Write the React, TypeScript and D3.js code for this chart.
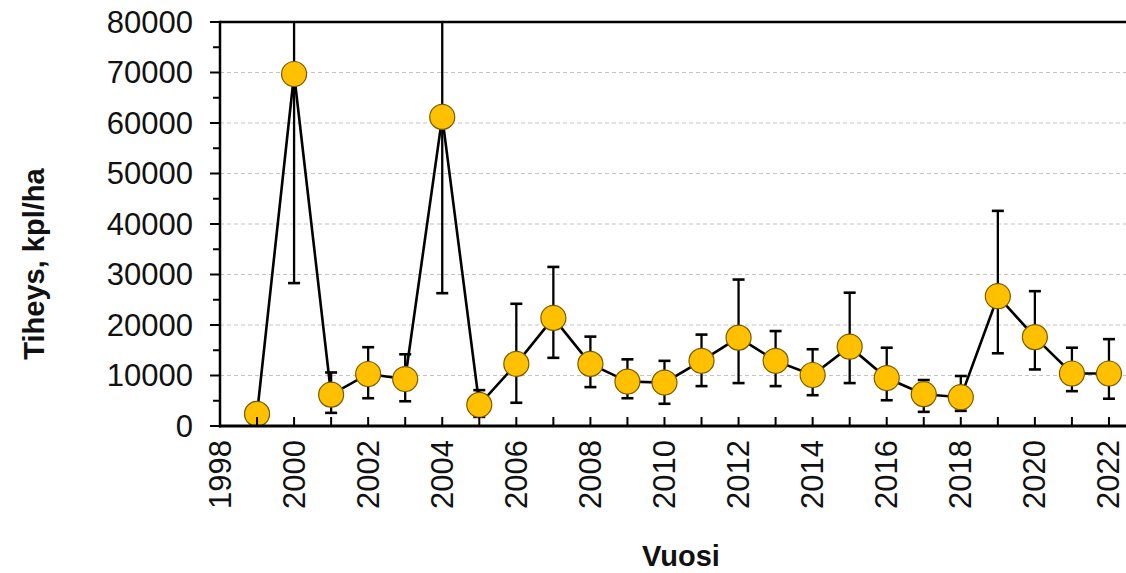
import React from "react";
import * as d3 from "d3";

// Annual density (kpl/ha) with upper/lower error limits
const years = [1999, 2000, 2001, 2002, 2003, 2004, 2005, 2006, 2007, 2008, 2009, 2010, 2011, 2012, 2013, 2014, 2015, 2016, 2017, 2018, 2019, 2020, 2021, 2022];
const density = [2400, 69700, 6200, 10300, 9300, 61200, 4200, 12300, 21400, 12300, 8800, 8600, 12900, 17500, 12900, 10100, 15700, 9500, 6300, 5700, 25700, 17600, 10400, 10400];
const upperLimit = [3600, 95000, 10600, 15600, 14200, 96000, 7100, 24200, 31500, 17700, 13200, 12900, 18100, 29000, 18800, 15200, 26400, 15500, 9100, 9900, 42600, 26700, 15500, 17200];
const lowerLimit = [1100, 28300, 2600, 5500, 4900, 26300, 1800, 4600, 13500, 7700, 5500, 4400, 7900, 8500, 7900, 6100, 8500, 5100, 2800, 3000, 14400, 11200, 6900, 5400];

const yTicks = [0, 10000, 20000, 30000, 40000, 50000, 60000, 70000, 80000];
const yMinorTicks = [5000, 15000, 25000, 35000, 45000, 55000, 65000, 75000];
const xTickYears = [1998, 1999, 2000, 2001, 2002, 2003, 2004, 2005, 2006, 2007, 2008, 2009, 2010, 2011, 2012, 2013, 2014, 2015, 2016, 2017, 2018, 2019, 2020, 2021, 2022, 2023];
const xLabelYears = [1998, 2000, 2002, 2004, 2006, 2008, 2010, 2012, 2014, 2016, 2018, 2020, 2022];

const W = 1126;
const H = 573;
const FONT = "'Liberation Sans', Arial, sans-serif";

export default function App() {
  const x = d3.scaleLinear().domain([1998, 2023]).range([220, 1146]);
  const y = d3.scaleLinear().domain([0, 80000]).range([426, 22]);

  const pts = years.map((yr, i) => ({ yr, v: density[i], hi: upperLimit[i], lo: lowerLimit[i] }));
  const line = d3
    .line<{ yr: number; v: number }>()
    .x((d) => x(d.yr))
    .y((d) => y(d.v));

  const top = y(80000);
  const bottom = y(0);
  const left = x(1998);

  return (
    <svg
      width={W}
      height={H}
      style={{ position: "absolute", left: 0, top: 0, display: "block", background: "#fff" }}
      fontFamily={FONT}
    >
      <defs>
        <clipPath id="plotClip">
          <rect x={left} y={top} width={W - left} height={bottom - top} />
        </clipPath>
      </defs>

      {/* horizontal gridlines */}
      {yTicks
        .filter((t) => t > 0 && t < 80000)
        .map((t) => (
          <line key={"g" + t} x1={left} x2={W} y1={y(t)} y2={y(t)} stroke="#c4c4c4" strokeWidth={1.1} strokeDasharray="4 3" />
        ))}

      <g clipPath="url(#plotClip)">
        {/* error bars */}
        {pts.map((d) => {
          const cx = x(d.yr);
          return (
            <g key={"e" + d.yr} stroke="#000" strokeWidth={2.3}>
              <line x1={cx} x2={cx} y1={y(d.hi)} y2={y(d.lo)} />
              <line x1={cx - 6} x2={cx + 6} y1={y(d.hi)} y2={y(d.hi)} strokeWidth={2.6} />
              <line x1={cx - 6} x2={cx + 6} y1={y(d.lo)} y2={y(d.lo)} strokeWidth={2.6} />
            </g>
          );
        })}

        {/* series line */}
        <path d={line(pts) || ""} fill="none" stroke="#000" strokeWidth={2.6} strokeLinejoin="miter" />

        {/* markers */}
        {pts.map((d) => (
          <circle key={"m" + d.yr} cx={x(d.yr)} cy={y(d.v)} r={12.5} fill="#FFC000" stroke="#7a5c00" strokeWidth={1.2} />
        ))}
      </g>

      {/* frame: top, left, bottom */}
      <line x1={left} x2={W} y1={top} y2={top} stroke="#000" strokeWidth={2.5} />
      <line x1={left} x2={left} y1={top - 1.2} y2={bottom + 1.5} stroke="#000" strokeWidth={2.5} />
      <line x1={left - 1} x2={W} y1={bottom} y2={bottom} stroke="#000" strokeWidth={3} />

      {/* y ticks */}
      {yTicks.map((t) => (
        <g key={"yt" + t}>
          <line x1={left - 10} x2={left} y1={y(t)} y2={y(t)} stroke="#000" strokeWidth={2} />
          <text x={193} y={y(t)} textAnchor="end" dominantBaseline="central" fontSize={31} fill="#111">
            {t}
          </text>
        </g>
      ))}
      {yMinorTicks.map((t) => (
        <line key={"ym" + t} x1={left - 7} x2={left} y1={y(t)} y2={y(t)} stroke="#000" strokeWidth={2} />
      ))}

      {/* x ticks (inside) */}
      {xTickYears.map((yr) => (
        <line key={"xt" + yr} x1={x(yr)} x2={x(yr)} y1={bottom} y2={bottom - 9} stroke="#000" strokeWidth={2} />
      ))}
      {xLabelYears.map((yr) => (
        <text
          key={"xl" + yr}
          transform={`translate(${x(yr)},${bottom + 14}) rotate(-90)`}
          textAnchor="end"
          dominantBaseline="central"
          fontSize={31}
          fill="#111"
        >
          {yr}
        </text>
      ))}

      {/* axis titles */}
      <text
        transform={`translate(34,${(top + bottom) / 2 + 40}) rotate(-90)`}
        textAnchor="middle"
        dominantBaseline="central"
        fontSize={29}
        fontWeight="bold"
        fill="#111"
      >
        Tiheys, kpl/ha
      </text>
      <text x={681} y={556} textAnchor="middle" dominantBaseline="central" fontSize={29} fontWeight="bold" fill="#111">
        Vuosi
      </text>
    </svg>
  );
}
